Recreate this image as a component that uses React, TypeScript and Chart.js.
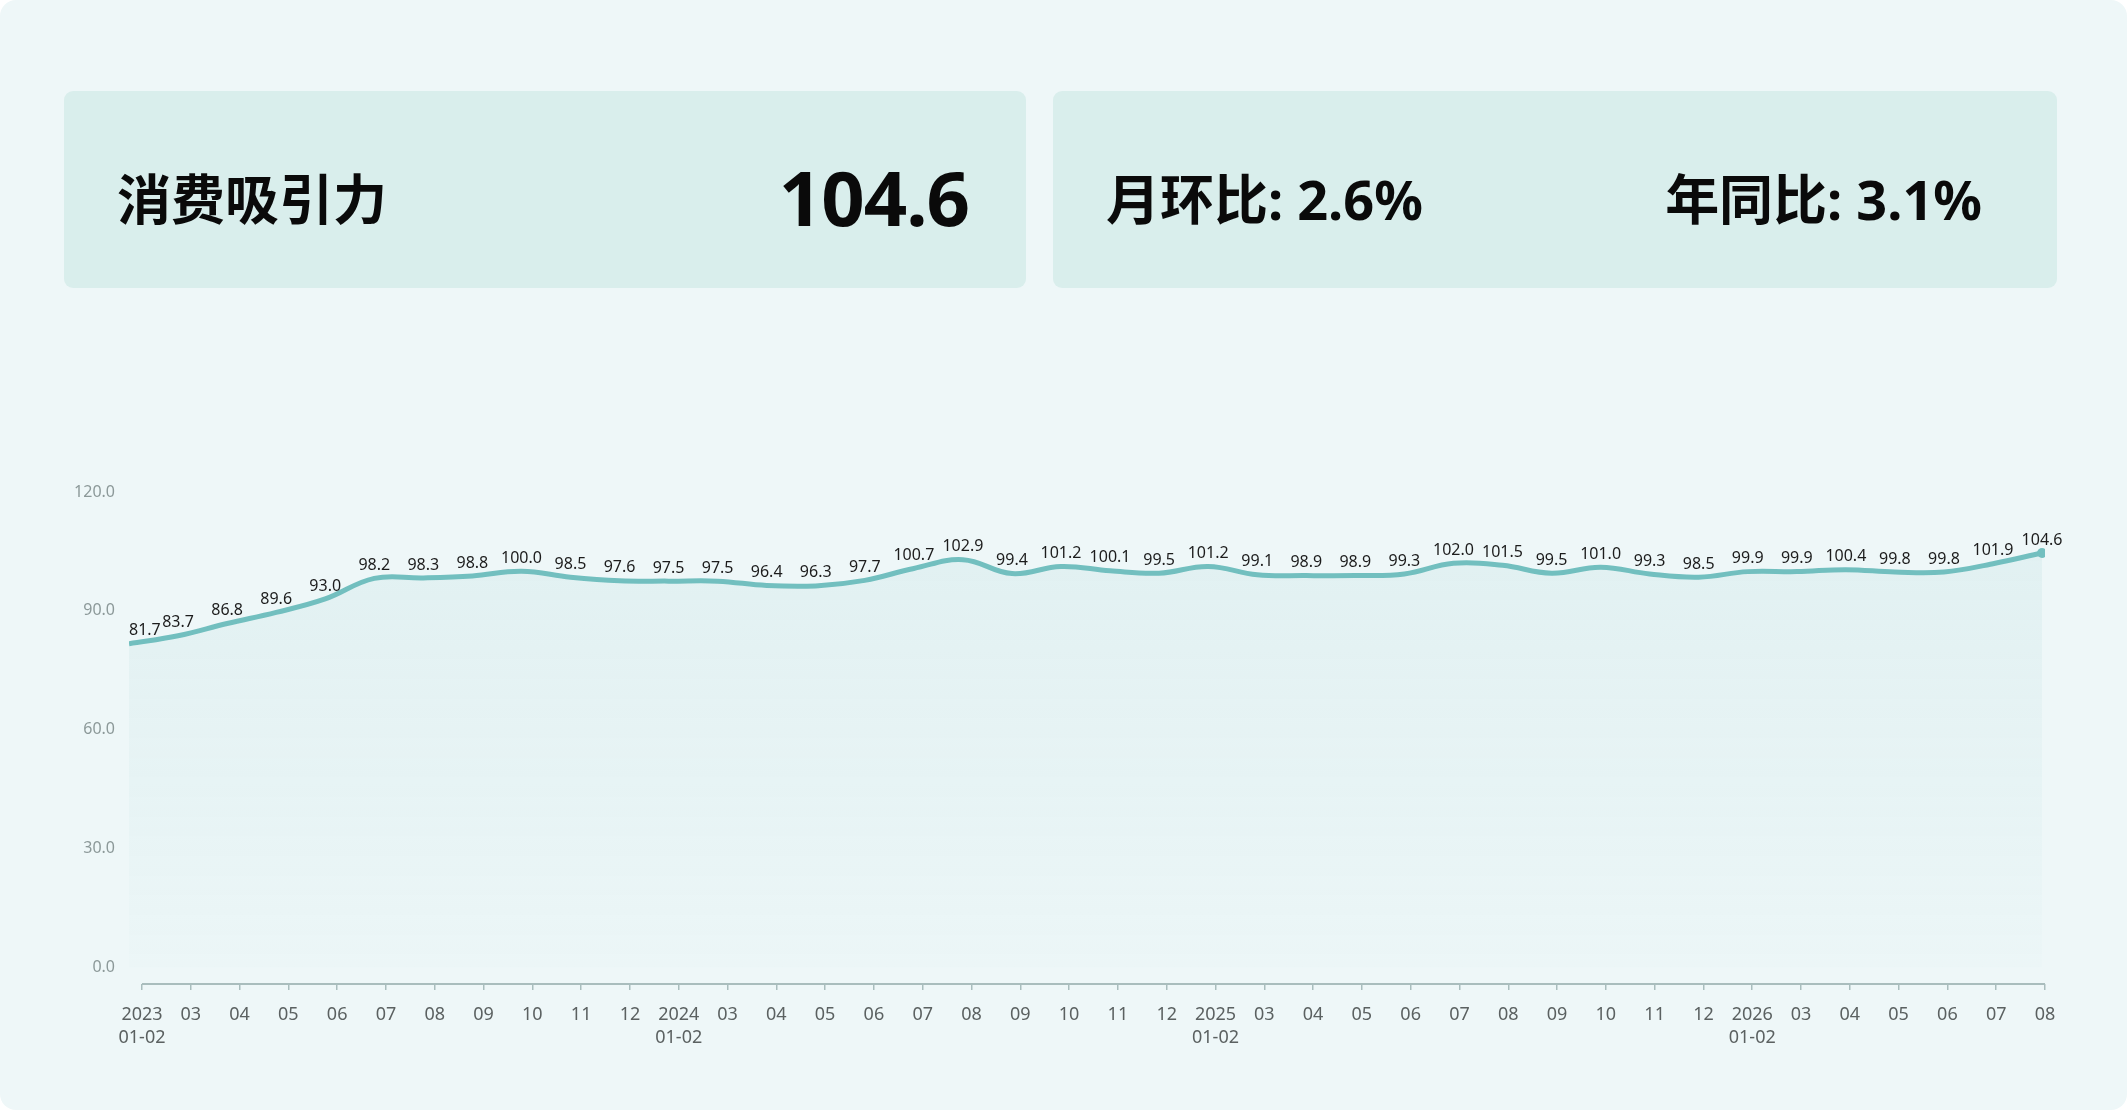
import { useEffect, useRef } from "react";
import { Chart, registerables } from "chart.js";

Chart.register(...registerables);

// 月度标签（x轴）
const xLabels: (string | string[])[] = [
  ["2023", "01-02"], "03", "04", "05", "06", "07", "08", "09", "10", "11", "12",
  ["2024", "01-02"], "03", "04", "05", "06", "07", "08", "09", "10", "11", "12",
  ["2025", "01-02"], "03", "04", "05", "06", "07", "08", "09", "10", "11", "12",
  ["2026", "01-02"], "03", "04", "05", "06", "07", "08",
];

// 消费吸引力指数
const values = [
  81.7, 83.7, 86.8, 89.6, 93.0, 98.2, 98.3, 98.8, 100.0, 98.5, 97.6,
  97.5, 97.5, 96.4, 96.3, 97.7, 100.7, 102.9, 99.4, 101.2, 100.1, 99.5,
  101.2, 99.1, 98.9, 98.9, 99.3, 102.0, 101.5, 99.5, 101.0, 99.3, 98.5,
  99.9, 99.9, 100.4, 99.8, 99.8, 101.9, 104.6,
];

const yTicks = [0, 30, 60, 90, 120];

const LINE = "#72bfbf";
const AXIS = "#a9bdbd";

const valueLabels = {
  id: "valueLabels",
  afterDatasetsDraw(chart: any) {
    const { ctx, chartArea } = chart;
    const meta = chart.getDatasetMeta(0);
    ctx.save();
    ctx.font = '16px "Noto Sans", sans-serif';
    ctx.fillStyle = "#1c1c1c";
    ctx.textAlign = "center";
    ctx.textBaseline = "bottom";
    meta.data.forEach((pt: any, i: number) => {
      const text = values[i].toFixed(1);
      const w = ctx.measureText(text).width;
      const x = Math.max(pt.x, chartArea.left + w / 2); // 左侧不越界
      ctx.fillText(text, x, pt.y - 5);
    });
    ctx.restore();
  },
};

const axisLine = {
  id: "axisLine",
  afterDraw(chart: any) {
    const s = chart.scales.x2;
    const ctx = chart.ctx;
    ctx.save();
    ctx.strokeStyle = AXIS;
    ctx.lineWidth = 2;
    ctx.beginPath();
    ctx.moveTo(s.getPixelForValue(0), s.top);
    ctx.lineTo(s.right, s.top);
    ctx.stroke();
    ctx.restore();
  },
};

const TrendChart = () => {
  const chartRef = useRef<HTMLCanvasElement | null>(null);
  const chartInstanceRef = useRef<Chart | null>(null);

  useEffect(() => {
    if (!chartRef.current) return;
    const ctx = chartRef.current.getContext("2d");
    if (!ctx) return;
    if (chartInstanceRef.current) chartInstanceRef.current.destroy();

    chartInstanceRef.current = new Chart(ctx, {
      type: "line",
      data: {
        datasets: [
          {
            data: values.map((v, i) => ({ x: i, y: v })),
            xAxisID: "x",
            yAxisID: "y",
            borderColor: LINE,
            borderWidth: 5,
            tension: 0.4,
            fill: "origin",
            backgroundColor: (c: any) => {
              const area = c.chart.chartArea;
              if (!area) return "rgba(114,191,191,0.08)";
              const g = c.chart.ctx.createLinearGradient(0, area.top, 0, area.bottom);
              g.addColorStop(0, "rgba(114,191,191,0.11)");
              g.addColorStop(1, "rgba(114,191,191,0.01)");
              return g;
            },
            pointRadius: values.map((_, i) => (i === values.length - 1 ? 5 : 0)),
            pointBackgroundColor: LINE,
            pointBorderWidth: 0,
          },
        ],
      },
      options: {
        animation: false,
        responsive: true,
        maintainAspectRatio: false,
        layout: { padding: { top: 52, right: 82, left: 0, bottom: 0 } },
        plugins: {
          legend: { display: false },
          tooltip: { enabled: false },
        },
        scales: {
          x: {
            type: "linear",
            display: false,
            min: 0,
            max: 39.06,
          },
          x2: {
            type: "linear",
            position: "bottom",
            min: -0.266,
            max: 39,
            afterBuildTicks: (s: any) => {
              s.ticks = xLabels.map((_, i) => ({ value: i }));
            },
            afterFit: (s: any) => {
              s.height = 116;
            },
            border: { display: false },
            grid: {
              drawOnChartArea: false,
              tickLength: 6,
              color: AXIS,
              lineWidth: 1.5,
            },
            ticks: {
              autoSkip: false,
              maxRotation: 0,
              padding: 14,
              color: "#5b6161",
              font: { family: '"Noto Sans", sans-serif', size: 18, lineHeight: 1.25 },
              callback: (_v: any, i: number) => xLabels[i],
            },
          },
          y: {
            min: -4.2,
            max: 120,
            afterBuildTicks: (s: any) => {
              s.ticks = yTicks.map((v) => ({ value: v }));
            },
            afterFit: (s: any) => {
              s.width = 129;
            },
            border: { display: false },
            grid: { display: false, drawTicks: false },
            ticks: {
              padding: 14,
              color: "#8c9999",
              font: { family: '"Noto Sans", sans-serif', size: 16 },
              callback: (v: any) => Number(v).toFixed(1),
            },
          },
        },
      } as any,
      plugins: [valueLabels, axisLine],
    });

    return () => {
      if (chartInstanceRef.current) {
        chartInstanceRef.current.destroy();
        chartInstanceRef.current = null;
      }
    };
  }, []);

  return (
    <div style={{ position: "absolute", left: 0, top: 440, width: 2127, height: 660 }}>
      <canvas ref={chartRef} />
    </div>
  );
};

const cardStyle: React.CSSProperties = {
  position: "absolute",
  top: 91,
  height: 197,
  background: "#d9eeec",
  borderRadius: 9,
  display: "flex",
  alignItems: "center",
  justifyContent: "space-between",
  boxSizing: "border-box",
  paddingTop: 14,
  color: "#0a0a0a",
  fontWeight: 700,
};

const App = () => {
  return (
    <div
      style={{
        position: "absolute",
        left: 0,
        top: 0,
        width: 2127,
        height: 1110,
        background: "#eef7f8",
        borderRadius: 16,
        overflow: "hidden",
        fontFamily: '"Noto Sans", "Noto Sans CJK SC", sans-serif',
      }}
    >
      <div style={{ ...cardStyle, left: 64, width: 962, paddingLeft: 53, paddingRight: 57 }}>
        <span style={{ fontSize: 54, fontFamily: '"Noto Sans CJK SC", sans-serif' }}>消费吸引力</span>
        <span style={{ fontSize: 76, letterSpacing: -1 }}>104.6</span>
      </div>
      <div style={{ ...cardStyle, left: 1053, width: 1004, paddingLeft: 53, paddingRight: 75 }}>
        <span style={{ fontSize: 54 }}>月环比: 2.6%</span>
        <span style={{ fontSize: 54 }}>年同比: 3.1%</span>
      </div>
      <TrendChart />
    </div>
  );
};

export default App;
